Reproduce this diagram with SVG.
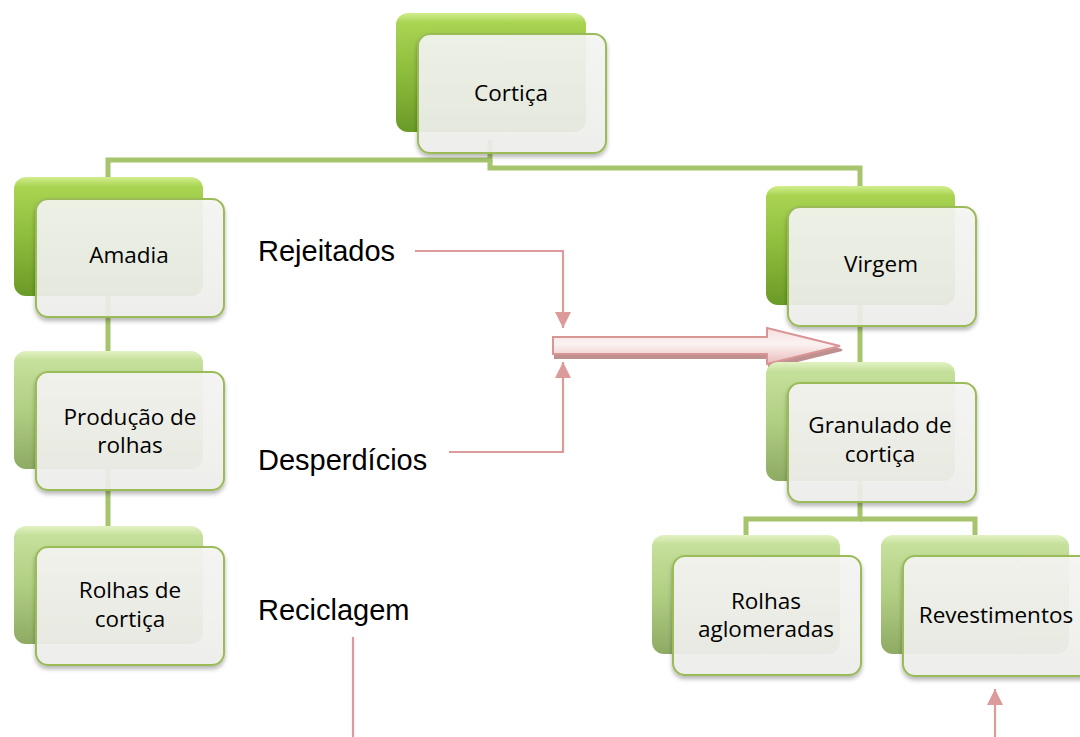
<svg xmlns="http://www.w3.org/2000/svg" width="1080" height="737" viewBox="0 0 1080 737">
<defs>
<linearGradient id="gDark" x1="0" y1="0" x2="0" y2="1">
<stop offset="0" stop-color="#d2ee8e"/>
<stop offset="0.08" stop-color="#a9d452"/>
<stop offset="0.5" stop-color="#8dbd3c"/>
<stop offset="1" stop-color="#6a9a27"/>
</linearGradient>
<linearGradient id="gLight" x1="0" y1="0" x2="0" y2="1">
<stop offset="0" stop-color="#e2f2c4"/>
<stop offset="0.08" stop-color="#c5e09a"/>
<stop offset="0.5" stop-color="#b1cf83"/>
<stop offset="1" stop-color="#8eaa63"/>
</linearGradient>
<linearGradient id="gFront" x1="0" y1="0" x2="0" y2="1">
<stop offset="0" stop-color="#f6f6f4"/>
<stop offset="1" stop-color="#f0f0ee"/>
</linearGradient>
<linearGradient id="gArrow" x1="0" y1="0" x2="0" y2="1">
<stop offset="0" stop-color="#f6dede"/>
<stop offset="0.45" stop-color="#fbf2f2"/>
<stop offset="1" stop-color="#e9b9b9"/>
</linearGradient>
<filter id="sh" x="-10%" y="-10%" width="120%" height="130%">
<feDropShadow dx="0" dy="3" stdDeviation="2" flood-color="#000" flood-opacity="0.3"/>
</filter>
<filter id="shA" x="-5%" y="-20%" width="110%" height="160%">
<feDropShadow dx="2" dy="4" stdDeviation="0.6" flood-color="#a86a6a" flood-opacity="0.75"/>
</filter>
<marker id="ah" viewBox="0 0 16 16" refX="16" refY="8" markerWidth="16" markerHeight="16" markerUnits="userSpaceOnUse" orient="auto">
<path d="M0,0 L16,8 L0,16 Z" fill="#dc9a9a"/>
</marker>
<style>
.back{stroke:none}
.dark{fill:url(#gDark)}
.light{fill:url(#gLight)}
.front{fill:url(#gFront);fill-opacity:0.9;stroke:#9bbb59;stroke-width:2;filter:url(#sh)}
.lbl{font-family:"Open Sans","Noto Sans","Liberation Sans",sans-serif;font-size:22.5px;fill:#000;text-anchor:middle}
.side{font-family:"Liberation Sans",Arial,sans-serif;font-size:29px;fill:#000}
.gc{fill:none;stroke:#a6c46c;stroke-width:5}
.pc{fill:none;stroke:#dc9a9a;stroke-width:2.2}
</style>
</defs>
<rect width="1080" height="737" fill="#fff"/>
<g id="connectors">
<path class="gc" d="M490,140 V160 H108 V180"/>
<path class="gc" d="M490,160 V168 H860 V190"/>
<path class="gc" d="M108,290 V355"/>
<path class="gc" d="M108,465 V530"/>
<path class="gc" d="M860,300 V366"/>
<path class="gc" d="M860,475 V519 H746 V538"/>
<path class="gc" d="M860,519 H975 V538"/>
<path class="pc" d="M415,251 H563 V328" marker-end="url(#ah)"/>
<path class="pc" d="M449,452 H563 V362" marker-end="url(#ah)"/>
<path class="pc" d="M353,637 V737"/>
<path class="pc" d="M995,737 V689" marker-end="url(#ah)"/>
<polygon points="553,337 767,337 767,328 840,346 767,364 767,354 553,354" fill="url(#gArrow)" stroke="#d99594" stroke-width="2" filter="url(#shA)"/>
</g>
<g id="node-cortica">
<rect class="back dark" x="396" y="13" width="190" height="119" rx="12"/>
<rect class="front" x="418" y="34" width="188" height="119" rx="12"/>
<text class="lbl" x="511" y="101">Cortiça</text>
</g>
<g id="node-amadia">
<rect class="back dark" x="14" y="177" width="189" height="119" rx="12"/>
<rect class="front" x="36" y="199" width="188" height="118" rx="12"/>
<text class="lbl" x="129" y="263">Amadia</text>
</g>
<g id="node-producao">
<rect class="back light" x="14" y="351" width="189" height="118" rx="12"/>
<rect class="front" x="36" y="372" width="188" height="118" rx="12"/>
<text class="lbl" x="130" y="425">Produção de</text>
<text class="lbl" x="130" y="453">rolhas</text>
</g>
<g id="node-rolhas-cortica">
<rect class="back light" x="14" y="526" width="189" height="118" rx="12"/>
<rect class="front" x="36" y="547" width="188" height="118" rx="12"/>
<text class="lbl" x="130" y="598">Rolhas de</text>
<text class="lbl" x="130" y="627">cortiça</text>
</g>
<g id="node-virgem">
<rect class="back dark" x="766" y="186" width="189" height="119" rx="12"/>
<rect class="front" x="788" y="207" width="188" height="119" rx="12"/>
<text class="lbl" x="881" y="272">Virgem</text>
</g>
<g id="node-granulado">
<rect class="back light" x="766" y="362" width="189" height="119" rx="12"/>
<rect class="front" x="788" y="383" width="188" height="119" rx="12"/>
<text class="lbl" x="880" y="433">Granulado de</text>
<text class="lbl" x="880" y="462">cortiça</text>
</g>
<g id="node-rolhas-aglomeradas">
<rect class="back light" x="652" y="535" width="188" height="119" rx="12"/>
<rect class="front" x="673" y="556" width="188" height="119" rx="12"/>
<text class="lbl" x="766" y="609">Rolhas</text>
<text class="lbl" x="766" y="637">aglomeradas</text>
</g>
<g id="node-revestimentos">
<rect class="back light" x="881" y="535" width="188" height="119" rx="12"/>
<rect class="front" x="903" y="556" width="190" height="120" rx="12"/>
<text class="lbl" x="996" y="623">Revestimentos</text>
</g>
<g id="side-labels">
<text class="side" x="258" y="261">Rejeitados</text>
<text class="side" x="258" y="470">Desperdícios</text>
<text class="side" x="258" y="620">Reciclagem</text>
</g>
</svg>
